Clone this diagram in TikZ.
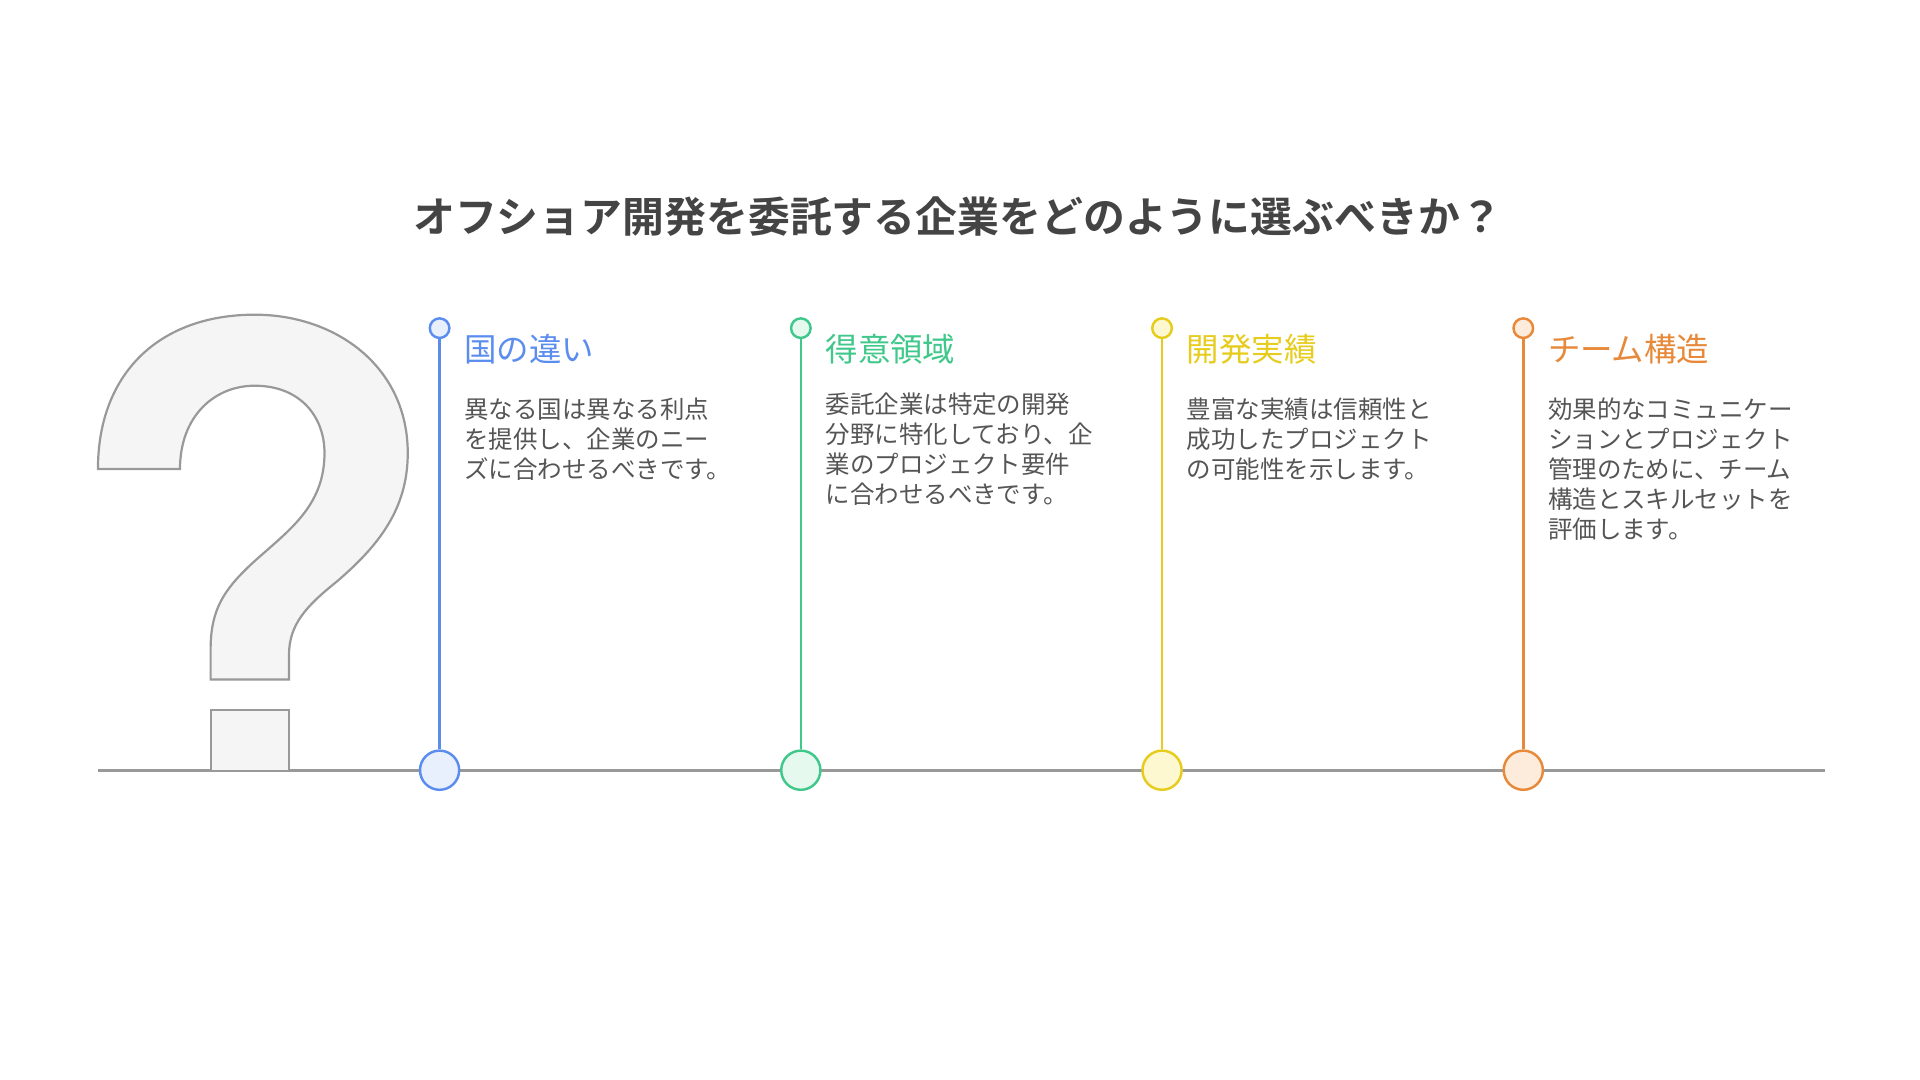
\documentclass[tikz,border=0pt]{standalone}
\usepackage{fontspec}
\setmainfont{Noto Sans CJK JP}
\newfontfamily\jpbold{Noto Sans CJK JP Bold}
\definecolor{cblue}{HTML}{5B8DEF}\definecolor{fblue}{HTML}{E8F0FE}
\definecolor{cgreen}{HTML}{3FC88A}\definecolor{fgreen}{HTML}{E6F9EF}
\definecolor{cyellow}{HTML}{E6CC1C}\definecolor{fyellow}{HTML}{FDF8D0}
\definecolor{corange}{HTML}{E8893A}\definecolor{forange}{HTML}{FDEBDC}
\definecolor{txt}{HTML}{555555}\definecolor{ttl}{HTML}{444444}
\definecolor{qgray}{HTML}{999999}
\begin{document}
\begin{tikzpicture}[x=1pt,y=-1pt,
  head/.style={anchor=west,font=\fontsize{26.5}{30}\selectfont,inner sep=0},
  body/.style={anchor=north west,align=left,text=txt,font=\fontsize{20}{24.5}\selectfont,inner sep=0},
  small/.style={circle,draw,line width=2pt,minimum size=16pt,inner sep=0},
  big/.style={circle,draw,line width=2pt,minimum size=32pt,inner sep=0}]
\useasboundingbox[fill=white] (0,0) rectangle (1568,882);
\node[font=\jpbold\fontsize{34.2}{38}\selectfont,text=ttl] (title) at (782,177) {オフショア開発を委託する企業をどのように選ぶべきか？};
\draw[qgray,line width=2.2pt] (80,629) coordinate (l0) -- (1490,629) coordinate (l1);
\draw[qgray,line width=1.8pt,fill=black!4]
 (80,383) -- (147,383) .. controls (147,340) and (175,315) .. (208,315)
 .. controls (245,315) and (265,340) .. (265,370)
 .. controls (265,410) and (240,430) .. (215,452)
 .. controls (185,478) and (172,495) .. (172,530) -- (172,555) -- (236,555) -- (236,535)
 .. controls (236,510) and (250,495) .. (275,475)
 .. controls (310,445) and (333,415) .. (333,370)
 .. controls (333,300) and (275,257) .. (208,257)
 .. controls (130,257) and (80,305) .. (80,383) -- cycle;
\fill[black!4] (172,629) rectangle (236,580);
\draw[qgray,line width=1.8pt] (172,629) -- (172,580) -- (236,580) -- (236,629);
\foreach \x/\c/\f/\n in {359/cblue/fblue/a,654/cgreen/fgreen/b,949/cyellow/fyellow/c,1244/corange/forange/d}{
  \node[small,draw=\c,fill=\f] (s\n) at (\x,268) {};
  \node[big,draw=\c,fill=\f] (b\n) at (\x,629) {};
  \draw[\c,line width=2pt] (s\n) -- (b\n);
}
\node[head,text=cblue] (ha) at (379,285) {国の違い};
\node[head,text=cgreen] (hb) at (674,285) {得意領域};
\node[head,text=cyellow] (hc) at (969,285) {開発実績};
\node[head,text=corange] (hd) at (1264,285) {チーム構造};
\node[body] (ta) at (379,325) {異なる国は異なる利点\\を提供し、企業のニー\\ズに合わせるべきです。};
\node[body] (tb) at (674,321) {委託企業は特定の開発\\分野に特化しており、企\\業のプロジェクト要件\\に合わせるべきです。};
\node[body] (tc) at (969,325) {豊富な実績は信頼性と\\成功したプロジェクト\\の可能性を示します。};
\node[body] (td) at (1264,325) {効果的なコミュニケー\\ションとプロジェクト\\管理のために、チーム\\構造とスキルセットを\\評価します。};
\end{tikzpicture}
\end{document}
